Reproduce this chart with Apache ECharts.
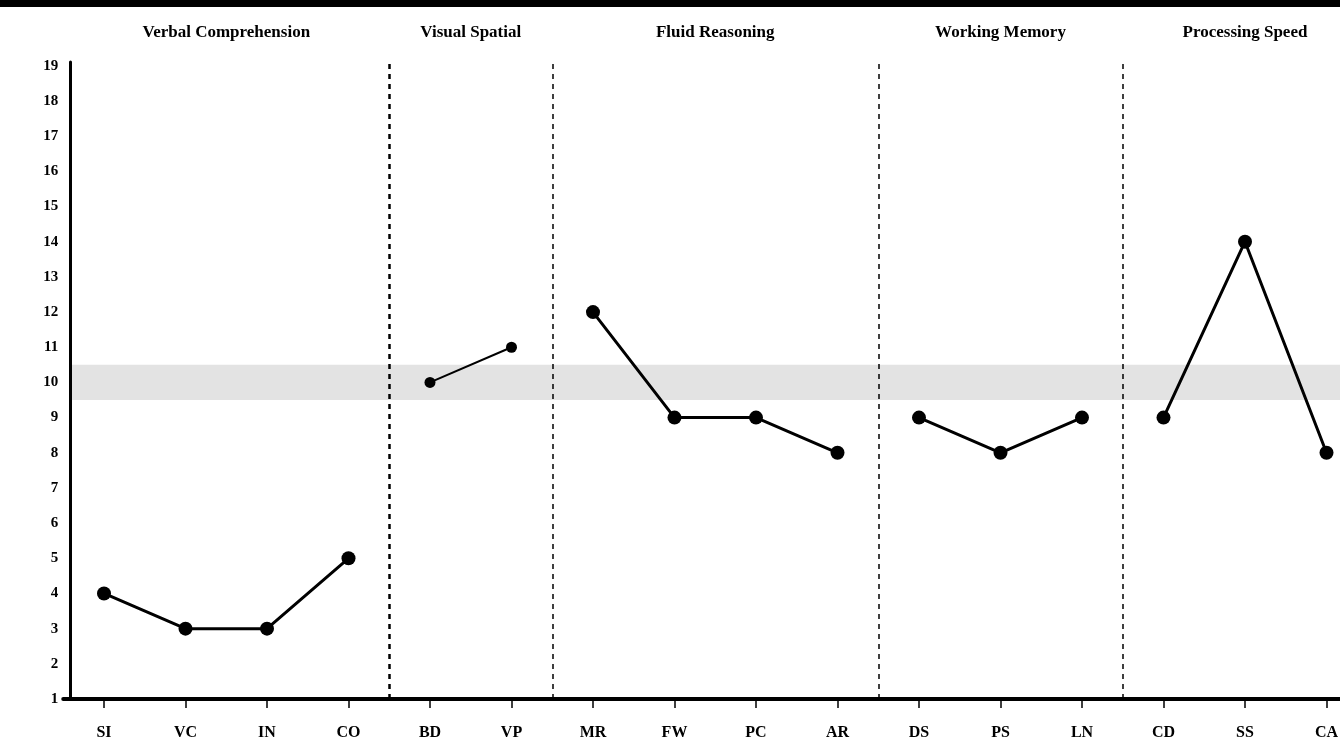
<!DOCTYPE html><html><head><meta charset="utf-8">
<script src="https://cdn.jsdelivr.net/npm/echarts@6/dist/echarts.min.js"></script>
<style>html,body{margin:0;background:#fff;overflow:hidden;width:1340px;height:755px}#c{width:1400px;height:755px}</style></head><body><div id="c"></div>
<script>
const categories=['SI','VC','IN','CO','BD','VP','MR','FW','PC','AR','DS','PS','LN','CD','SS','CA'];
const yTicks=[1,2,3,4,5,6,7,8,9,10,11,12,13,14,15,16,17,18,19];
const groups=['Verbal Comprehension','Visual Spatial','Fluid Reasoning','Working Memory','Processing Speed'];
const groupStart=[0,4,6,10,13];
const groupSize=[4,2,4,3,3];
const values=[[4,3,3,5],[10,11],[12,9,9,8],[9,8,9],[9,14,8]];
const dividers=[4,6,10,13];
const font='Liberation Serif';
const chart=echarts.init(document.getElementById('c'));
const series=values.map((vals,g)=>({
  type:'line',xAxisIndex:1,yAxisIndex:0,
  data:vals.map((v,i)=>[groupStart[g]+i+0.5,v]),
  symbol:'circle',symbolSize:g===1?11:14,
  lineStyle:{color:'#000',width:g===1?2:3},itemStyle:{color:'#000'},
  z:5
}));
series.push({type:'line',xAxisIndex:1,data:[],z:0,
  markArea:{silent:true,itemStyle:{color:'#e3e3e3'},data:[[{yAxis:9.5,x:70},{yAxis:10.5,x:1400}]]},
  markLine:{silent:true,symbol:'none',label:{show:false},
    data:dividers.map((d,i)=>({xAxis:d,lineStyle:{color:'#000',type:[5,5],width:i===0?2.5:1.5}}))}
});
chart.setOption({
  animation:false,
  grid:{left:63.25,width:1304,top:62,bottom:56,containLabel:false},
  xAxis:[{type:'category',data:categories,boundaryGap:true,z:10,
    axisLine:{lineStyle:{color:'#000',width:4}},
    axisTick:{show:true,alignWithLabel:true,length:9,lineStyle:{color:'#000',width:1.5}},
    axisLabel:{color:'#000',fontFamily:font,fontWeight:'bold',fontSize:16,margin:26}},
   {type:'value',min:0,max:16,show:false}],
  yAxis:[{type:'value',min:1,max:19.11,offset:-7,z:10,
    axisLine:{show:true,lineStyle:{color:'#000',width:3}},
    axisTick:{show:false},
    axisLabel:{customValues:yTicks,color:'#000',fontFamily:font,fontWeight:'bold',fontSize:15,margin:12},
    splitLine:{show:false}}],
  series:series
});
const gr=[{type:'rect',shape:{x:0,y:0,width:1400,height:7},style:{fill:'#000'}}];
groups.forEach((name,g)=>{
  const cx=chart.convertToPixel({xAxisIndex:1},groupStart[g]+groupSize[g]/2);
  gr.push({type:'text',x:cx,y:33,style:{text:name,fill:'#000',font:'bold 17px "'+font+'"',align:'center',verticalAlign:'middle'}});
});
chart.setOption({graphic:gr});
</script></body></html>
